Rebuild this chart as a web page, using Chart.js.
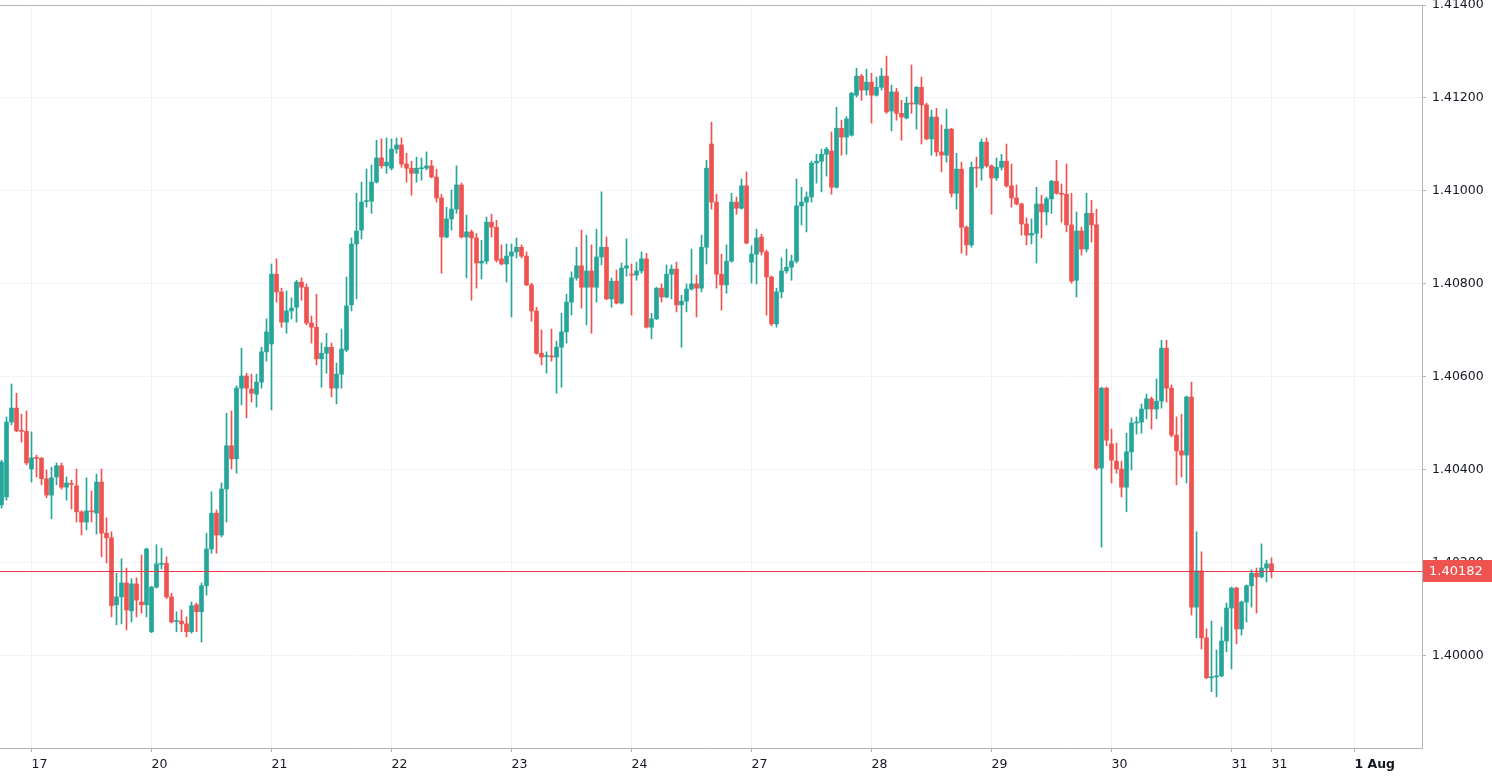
<!DOCTYPE html>
<html lang="en">
<head>
<meta charset="UTF-8">
<title>Hourly candles, 17 - 31 Jul</title>
<script src="https://cdn.jsdelivr.net/npm/chart.js"></script>
<style>
  html, body { margin: 0; padding: 0; background: #fff; }
  #wrap { width: 1492px; height: 779px; }
</style>
</head>
<body>
<div id="wrap"><canvas id="chart" width="1492" height="779"></canvas></div>
<script>
// hourly OHLC
const open = [
  1.40325, 1.40342, 1.40503, 1.40533, 1.40485, 1.40483, 1.40402, 1.40426, 1.40425, 1.40381,
  1.40346, 1.40385, 1.40409, 1.40363, 1.40371, 1.40366, 1.40310, 1.40288, 1.40312, 1.40307,
  1.40374, 1.40264, 1.40254, 1.40110, 1.40127, 1.40157, 1.40097, 1.40155, 1.40116, 1.40110,
  1.40052, 1.40148, 1.40197, 1.40199, 1.40127, 1.40074, 1.40075, 1.40069, 1.40052, 1.40110,
  1.40095, 1.40151, 1.40230, 1.40307, 1.40260, 1.40359, 1.40452, 1.40424, 1.40576, 1.40602,
  1.40574, 1.40563, 1.40589, 1.40654, 1.40671, 1.40821, 1.40783, 1.40718, 1.40742, 1.40750,
  1.40804, 1.40793, 1.40716, 1.40707, 1.40639, 1.40651, 1.40664, 1.40576, 1.40606, 1.40658,
  1.40755, 1.40886, 1.40916, 1.40977, 1.40978, 1.41019, 1.41071, 1.41054, 1.41049, 1.41090,
  1.41099, 1.41058, 1.41049, 1.41038, 1.41048, 1.41049, 1.41054, 1.41030, 1.40985, 1.40901,
  1.40940, 1.40961, 1.41013, 1.40901, 1.40912, 1.40899, 1.40845, 1.40849, 1.40933, 1.40922,
  1.40854, 1.40843, 1.40860, 1.40869, 1.40879, 1.40860, 1.40798, 1.40742, 1.40651, 1.40644,
  1.40645, 1.40643, 1.40664, 1.40697, 1.40761, 1.40813, 1.40839, 1.40793, 1.40828, 1.40793,
  1.40858, 1.40879, 1.40768, 1.40806, 1.40759, 1.40834, 1.40821, 1.40819, 1.40828, 1.40854,
  1.40707, 1.40725, 1.40791, 1.40772, 1.40821, 1.40832, 1.40755, 1.40763, 1.40789, 1.40800,
  1.40791, 1.40879, 1.41101, 1.40976, 1.40821, 1.40798, 1.40849, 1.40976, 1.40963, 1.41011,
  1.40847, 1.40864, 1.40901, 1.40869, 1.40815, 1.40714, 1.40783, 1.40828, 1.40836, 1.40849,
  1.40968, 1.40976, 1.40987, 1.41060, 1.41064, 1.41079, 1.41086, 1.41008, 1.41135, 1.41116,
  1.41120, 1.41206, 1.41247, 1.41217, 1.41234, 1.41206, 1.41223, 1.41247, 1.41172, 1.41213,
  1.41167, 1.41157, 1.41189, 1.41187, 1.41223, 1.41185, 1.41112, 1.41159, 1.41084, 1.41077,
  1.41133, 1.40995, 1.41047, 1.40922, 1.40884, 1.41051, 1.41049, 1.41105, 1.41054, 1.41028,
  1.41051, 1.41064, 1.41011, 1.40985, 1.40972, 1.40929, 1.40905, 1.40909, 1.40972, 1.40955,
  1.40983, 1.41021, 1.40995, 1.40993, 1.40927, 1.40808, 1.40914, 1.40875, 1.40952, 1.40927,
  1.40404, 1.40576, 1.40456, 1.40419, 1.40402, 1.40363, 1.40439, 1.40501, 1.40503, 1.40531,
  1.40553, 1.40531, 1.40548, 1.40662, 1.40576, 1.40475, 1.40441, 1.40432, 1.40557, 1.40105,
  1.40183, 1.40039, 1.39953, 1.39955, 1.39957, 1.40032, 1.40103, 1.40146, 1.40058, 1.40116,
  1.40151, 1.40178, 1.40170, 1.40189, 1.40198
];
const high = [
  1.40421, 1.40514, 1.40585, 1.40565, 1.40520, 1.40527, 1.40482, 1.40432, 1.40427, 1.40400,
  1.40406, 1.40415, 1.40415, 1.40385, 1.40378, 1.40402, 1.40312, 1.40383, 1.40355, 1.40391,
  1.40402, 1.40297, 1.40267, 1.40178, 1.40209, 1.40189, 1.40166, 1.40168, 1.40217, 1.40232,
  1.40150, 1.40239, 1.40232, 1.40213, 1.40135, 1.40095, 1.40099, 1.40084, 1.40116, 1.40114,
  1.40157, 1.40264, 1.40353, 1.40314, 1.40372, 1.40522, 1.40527, 1.40581, 1.40662, 1.40608,
  1.40606, 1.40606, 1.40664, 1.40725, 1.40843, 1.40854, 1.40791, 1.40785, 1.40770, 1.40808,
  1.40813, 1.40800, 1.40731, 1.40778, 1.40673, 1.40694, 1.40673, 1.40630, 1.40703, 1.40815,
  1.40899, 1.40995, 1.41019, 1.41047, 1.41056, 1.41109, 1.41112, 1.41114, 1.41112, 1.41114,
  1.41114, 1.41081, 1.41064, 1.41073, 1.41071, 1.41084, 1.41066, 1.41047, 1.40993, 1.40965,
  1.41002, 1.41054, 1.41017, 1.40948, 1.40916, 1.40909, 1.40894, 1.40944, 1.40950, 1.40937,
  1.40884, 1.40886, 1.40886, 1.40899, 1.40884, 1.40869, 1.40802, 1.40750, 1.40701, 1.40654,
  1.40703, 1.40677, 1.40737, 1.40778, 1.40826, 1.40879, 1.40916, 1.40905, 1.40884, 1.40918,
  1.40998, 1.40901, 1.40813, 1.40830, 1.40845, 1.40897, 1.40843, 1.40847, 1.40869, 1.40866,
  1.40737, 1.40793, 1.40800, 1.40841, 1.40841, 1.40847, 1.40776, 1.40800, 1.40875, 1.40819,
  1.40905, 1.41066, 1.41148, 1.40993, 1.40864, 1.40884, 1.40995, 1.40987, 1.41026, 1.41041,
  1.40882, 1.40918, 1.40907, 1.40873, 1.40817, 1.40791, 1.40856, 1.40875, 1.40862, 1.41026,
  1.41008, 1.40998, 1.41064, 1.41079, 1.41090, 1.41094, 1.41127, 1.41180, 1.41152, 1.41160,
  1.41212, 1.41264, 1.41251, 1.41262, 1.41253, 1.41245, 1.41264, 1.41290, 1.41228, 1.41221,
  1.41195, 1.41202, 1.41271, 1.41225, 1.41245, 1.41189, 1.41174, 1.41178, 1.41142, 1.41176,
  1.41135, 1.41081, 1.41062, 1.40925, 1.41062, 1.41073, 1.41112, 1.41114, 1.41056, 1.41071,
  1.41079, 1.41101, 1.41058, 1.41013, 1.40974, 1.40942, 1.40940, 1.41008, 1.40991, 1.40987,
  1.41023, 1.41066, 1.41015, 1.41058, 1.40995, 1.40955, 1.40922, 1.40995, 1.40980, 1.40961,
  1.40578, 1.40578, 1.40488, 1.40458, 1.40419, 1.40479, 1.40512, 1.40514, 1.40542, 1.40563,
  1.40557, 1.40596, 1.40679, 1.40679, 1.40583, 1.40514, 1.40520, 1.40559, 1.40589, 1.40267,
  1.40224, 1.40058, 1.40075, 1.40013, 1.40062, 1.40114, 1.40148, 1.40148, 1.40118, 1.40153,
  1.40185, 1.40189, 1.40241, 1.40206, 1.40211
];
const low = [
  1.40318, 1.40335, 1.40497, 1.40482, 1.40460, 1.40411, 1.40374, 1.40385, 1.40368, 1.40340,
  1.40295, 1.40368, 1.40359, 1.40335, 1.40316, 1.40288, 1.40260, 1.40271, 1.40288, 1.40262,
  1.40213, 1.40200, 1.40084, 1.40067, 1.40069, 1.40056, 1.40073, 1.40084, 1.40092, 1.40084,
  1.40050, 1.40146, 1.40187, 1.40123, 1.40071, 1.40052, 1.40052, 1.40041, 1.40049, 1.40052,
  1.40030, 1.40131, 1.40221, 1.40221, 1.40256, 1.40288, 1.40402, 1.40393, 1.40540, 1.40512,
  1.40546, 1.40535, 1.40576, 1.40634, 1.40529, 1.40761, 1.40707, 1.40694, 1.40725, 1.40718,
  1.40765, 1.40712, 1.40673, 1.40626, 1.40578, 1.40608, 1.40557, 1.40542, 1.40576, 1.40654,
  1.40742, 1.40768, 1.40897, 1.40965, 1.40952, 1.41017, 1.41049, 1.41038, 1.41045, 1.41081,
  1.41051, 1.41019, 1.40991, 1.41019, 1.41023, 1.41045, 1.41028, 1.40976, 1.40823, 1.40899,
  1.40916, 1.40952, 1.40899, 1.40813, 1.40765, 1.40791, 1.40811, 1.40843, 1.40901, 1.40847,
  1.40841, 1.40804, 1.40729, 1.40856, 1.40856, 1.40796, 1.40720, 1.40649, 1.40626, 1.40608,
  1.40634, 1.40565, 1.40578, 1.40673, 1.40733, 1.40808, 1.40748, 1.40712, 1.40694, 1.40761,
  1.40841, 1.40766, 1.40750, 1.40757, 1.40757, 1.40817, 1.40733, 1.40808, 1.40823, 1.40705,
  1.40682, 1.40723, 1.40761, 1.40770, 1.40768, 1.40740, 1.40664, 1.40740, 1.40787, 1.40729,
  1.40783, 1.40843, 1.40961, 1.40791, 1.40744, 1.40780, 1.40847, 1.40950, 1.40961, 1.40886,
  1.40802, 1.40800, 1.40862, 1.40733, 1.40710, 1.40707, 1.40770, 1.40823, 1.40808, 1.40845,
  1.40927, 1.40912, 1.40976, 1.41017, 1.40998, 1.41032, 1.40993, 1.41006, 1.41077, 1.41079,
  1.41118, 1.41202, 1.41195, 1.41206, 1.41146, 1.41204, 1.41217, 1.41167, 1.41129, 1.41152,
  1.41109, 1.41155, 1.41167, 1.41133, 1.41101, 1.41110, 1.41077, 1.41075, 1.41041, 1.41062,
  1.40987, 1.40961, 1.40866, 1.40862, 1.40879, 1.41008, 1.41023, 1.41051, 1.40950, 1.41023,
  1.41045, 1.41008, 1.40965, 1.40970, 1.40905, 1.40884, 1.40886, 1.40845, 1.40899, 1.40927,
  1.40952, 1.40993, 1.40933, 1.40912, 1.40802, 1.40772, 1.40862, 1.40869, 1.40890, 1.40400,
  1.40234, 1.40452, 1.40372, 1.40393, 1.40342, 1.40310, 1.40400, 1.40477, 1.40479, 1.40510,
  1.40488, 1.40510, 1.40533, 1.40546, 1.40471, 1.40368, 1.40385, 1.40372, 1.40088, 1.40039,
  1.40015, 1.39951, 1.39923, 1.39912, 1.39955, 1.40009, 1.39972, 1.40026, 1.40045, 1.40073,
  1.40105, 1.40092, 1.40168, 1.40159, 1.40168
];
const close = [
  1.40417, 1.40503, 1.40533, 1.40484, 1.40483, 1.40415, 1.40426, 1.40425, 1.40381, 1.40346,
  1.40383, 1.40409, 1.40363, 1.40372, 1.40369, 1.40310, 1.40288, 1.40312, 1.40310, 1.40374,
  1.40264, 1.40254, 1.40108, 1.40127, 1.40157, 1.40099, 1.40155, 1.40120, 1.40110, 1.40230,
  1.40148, 1.40198, 1.40199, 1.40127, 1.40073, 1.40076, 1.40069, 1.40052, 1.40108, 1.40095,
  1.40151, 1.40230, 1.40307, 1.40260, 1.40359, 1.40452, 1.40424, 1.40576, 1.40602, 1.40576,
  1.40565, 1.40589, 1.40654, 1.40697, 1.40821, 1.40783, 1.40718, 1.40742, 1.40748, 1.40804,
  1.40793, 1.40716, 1.40707, 1.40639, 1.40651, 1.40664, 1.40576, 1.40606, 1.40660, 1.40753,
  1.40886, 1.40914, 1.40976, 1.40979, 1.41019, 1.41071, 1.41054, 1.41062, 1.41090, 1.41099,
  1.41058, 1.41049, 1.41038, 1.41049, 1.41050, 1.41054, 1.41030, 1.40985, 1.40901, 1.40940,
  1.40961, 1.41013, 1.40901, 1.40912, 1.40899, 1.40845, 1.40849, 1.40933, 1.40922, 1.40851,
  1.40843, 1.40860, 1.40869, 1.40879, 1.40860, 1.40798, 1.40742, 1.40651, 1.40643, 1.40646,
  1.40643, 1.40664, 1.40697, 1.40761, 1.40813, 1.40839, 1.40793, 1.40828, 1.40793, 1.40858,
  1.40879, 1.40768, 1.40806, 1.40759, 1.40834, 1.40839, 1.40819, 1.40828, 1.40854, 1.40707,
  1.40725, 1.40791, 1.40772, 1.40821, 1.40832, 1.40755, 1.40763, 1.40789, 1.40800, 1.40791,
  1.40879, 1.41049, 1.40976, 1.40821, 1.40798, 1.40849, 1.40976, 1.40963, 1.41011, 1.40888,
  1.40864, 1.40899, 1.40869, 1.40815, 1.40714, 1.40783, 1.40828, 1.40836, 1.40849, 1.40968,
  1.40976, 1.40987, 1.41060, 1.41064, 1.41079, 1.41090, 1.41008, 1.41135, 1.41116, 1.41155,
  1.41210, 1.41247, 1.41217, 1.41234, 1.41206, 1.41223, 1.41247, 1.41170, 1.41213, 1.41167,
  1.41159, 1.41189, 1.41187, 1.41223, 1.41185, 1.41112, 1.41159, 1.41084, 1.41077, 1.41133,
  1.40995, 1.41047, 1.40922, 1.40884, 1.41051, 1.41049, 1.41105, 1.41054, 1.41028, 1.41051,
  1.41064, 1.41011, 1.40985, 1.40972, 1.40929, 1.40905, 1.40909, 1.40972, 1.40955, 1.40983,
  1.41021, 1.40995, 1.40993, 1.40927, 1.40806, 1.40914, 1.40875, 1.40952, 1.40927, 1.40404,
  1.40576, 1.40464, 1.40421, 1.40402, 1.40363, 1.40439, 1.40501, 1.40503, 1.40531, 1.40553,
  1.40531, 1.40548, 1.40662, 1.40576, 1.40475, 1.40441, 1.40432, 1.40557, 1.40105, 1.40183,
  1.40039, 1.39953, 1.39955, 1.39957, 1.40032, 1.40103, 1.40146, 1.40058, 1.40116, 1.40151,
  1.40178, 1.40170, 1.40189, 1.40198, 1.40182
];

// time axis: bar index where each label sits
const dayTicks = [6, 30, 54, 78, 102, 126, 150, 174, 198, 222, 246, 254, 270.6];
const dayLabels = ['17', '20', '21', '22', '23', '24', '27', '28', '29', '30', '31', '31', '1 Aug'];
const priceTicks = [1.400, 1.402, 1.404, 1.406, 1.408, 1.410, 1.412, 1.414];

const UP = '#26a69a';
const DOWN = '#ef5350';
const PRICE_LINE = '#f23645';
const AXIS = '#b2b5be';
const GRID = '#f0f3fa';
const TEXT = '#131722';
const FONT = 'DejaVu Sans';

const idx = open.map((_, i) => i);
const colors = idx.map(i => close[i] >= open[i] ? UP : DOWN);
const bodies = idx.map(i => ({ x: i, y: [open[i], close[i]] }));
const wicks = idx.map(i => ({ x: i, y: [low[i], high[i]] }));
const last = close[close.length - 1];

// top frame line, last price line and its label on the axis
const extras = {
    id: 'extras',
    afterDraw(chart) {
        const { ctx, chartArea: a, width } = chart;
        const y = Math.round(chart.scales.y.getPixelForValue(last));
        ctx.save();
        ctx.fillStyle = AXIS;
        ctx.fillRect(a.left, a.top, a.right - a.left, 1);
        ctx.fillStyle = PRICE_LINE;
        ctx.fillRect(a.left, y, a.right - a.left, 1);
        ctx.fillStyle = DOWN;
        ctx.fillRect(a.right + 1, y - 11, width - a.right - 1, 22);
        ctx.fillStyle = '#ffffff';
        ctx.font = '13px "' + FONT + '"';
        ctx.textBaseline = 'middle';
        ctx.fillText(last.toFixed(5), a.right + 7, y + 1);
        ctx.restore();
    }
};

new Chart(document.getElementById('chart'), {
    type: 'bar',
    data: {
        datasets: [
            {
                data: bodies,
                backgroundColor: colors,
                barThickness: 4,
                minBarLength: 1,
                grouped: false,
                borderWidth: 0
            },
            {
                data: wicks,
                backgroundColor: colors,
                barThickness: 1,
                grouped: false,
                borderWidth: 0
            }
        ]
    },
    options: {
        responsive: false,
        animation: false,
        layout: { padding: { top: 5, left: 0, right: 0, bottom: 0 } },
        plugins: {
            legend: { display: false },
            tooltip: { enabled: false }
        },
        scales: {
            x: {
                type: 'linear',
                min: -0.3,
                max: 284.1,
                offset: false,
                afterBuildTicks: s => { s.ticks = dayTicks.map(v => ({ value: v })); },
                afterFit: s => { s.height = 31; s.paddingLeft = 0; s.paddingRight = 0; },
                grid: { offset: false, color: GRID, tickColor: AXIS, tickLength: 4 },
                border: { color: AXIS },
                ticks: {
                    autoSkip: false,
                    maxRotation: 0,
                    align: 'start',
                    padding: 5,
                    color: TEXT,
                    font: c => ({
                        family: FONT,
                        size: 12.5,
                        weight: dayLabels[c.index] === '1 Aug' ? 'bold' : 'normal'
                    }),
                    callback: (v, i) => dayLabels[i]
                }
            },
            y: {
                position: 'right',
                min: 1.39802,
                max: 1.414,
                afterBuildTicks: s => { s.ticks = priceTicks.map(v => ({ value: v })); },
                afterFit: s => { s.width = 70; s.paddingTop = 0; s.paddingBottom = 0; },
                grid: { color: GRID, tickColor: AXIS, tickLength: 4 },
                border: { color: AXIS },
                ticks: {
                    padding: 6,
                    color: TEXT,
                    font: { family: FONT, size: 12.5 },
                    callback: v => v.toFixed(5)
                }
            }
        }
    },
    plugins: [extras]
});
</script>
</body>
</html>
